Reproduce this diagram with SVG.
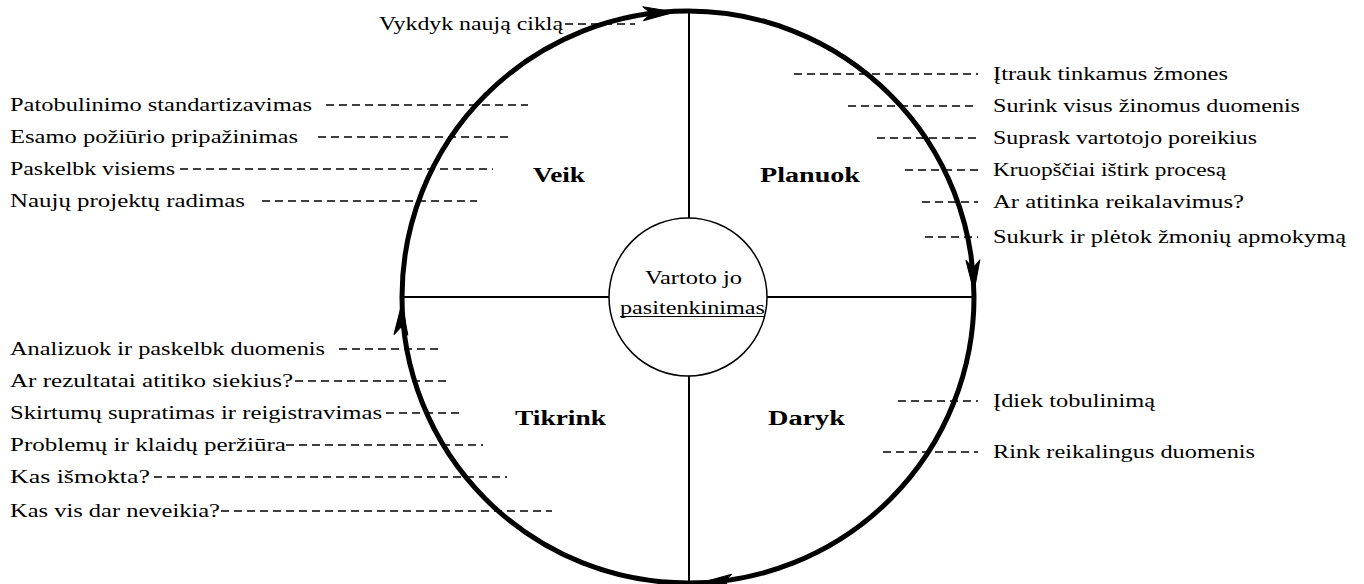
<svg xmlns="http://www.w3.org/2000/svg" width="1364" height="584" viewBox="0 0 1364 584">
<style>
text{font-family:"Liberation Serif","Times New Roman",serif;font-size:18px;fill:#000}
.b{font-weight:bold;font-size:20px}
.d{stroke:#000;stroke-width:1.3;stroke-dasharray:8 5;fill:none}
.ax{stroke:#000;stroke-width:2;fill:none}
.big{stroke:#000;stroke-width:5;fill:none}
.ah{fill:#000;stroke:#000;stroke-width:1}
</style>
<defs>
<path id="arrow" d="M0,0 L-32,-7 L-24,0 L-32,7 Z"/>
</defs>
<rect width="1364" height="584" fill="#fff"/>
<g id="connectors">
<circle class="big" cx="688" cy="297" r="286"/>
<use href="#arrow" class="ah" transform="translate(675,12) rotate(-3)"/>
<use href="#arrow" class="ah" transform="translate(974,292) rotate(88)"/>
<use href="#arrow" class="ah" transform="translate(700,583) rotate(177)"/>
<use href="#arrow" class="ah" transform="translate(402,303) rotate(-88)"/>
<line class="ax" x1="689" y1="11" x2="689" y2="218"/>
<line class="ax" x1="689" y1="376" x2="689" y2="583"/>
<line class="ax" x1="402" y1="297" x2="609" y2="297"/>
<line class="ax" x1="767" y1="297" x2="975" y2="297"/>
<line class="d" x1="565" y1="24" x2="635" y2="24"/>
<line class="d" x1="326" y1="105" x2="528" y2="105"/>
<line class="d" x1="318" y1="137" x2="510" y2="137"/>
<line class="d" x1="180" y1="169" x2="493" y2="169"/>
<line class="d" x1="262" y1="201" x2="477" y2="201"/>
<line class="d" x1="794" y1="74" x2="978" y2="74"/>
<line class="d" x1="848" y1="106" x2="978" y2="106"/>
<line class="d" x1="877" y1="138" x2="978" y2="138"/>
<line class="d" x1="905" y1="170" x2="978" y2="170"/>
<line class="d" x1="922" y1="202" x2="978" y2="202"/>
<line class="d" x1="925" y1="237" x2="978" y2="237"/>
<line class="d" x1="898" y1="401" x2="978" y2="401"/>
<line class="d" x1="883" y1="452" x2="978" y2="452"/>
<line class="d" x1="339" y1="349" x2="440" y2="349"/>
<line class="d" x1="295" y1="381" x2="447" y2="381"/>
<line class="d" x1="386" y1="413" x2="464" y2="413"/>
<line class="d" x1="286" y1="445" x2="483" y2="445"/>
<line class="d" x1="154" y1="477" x2="507" y2="477"/>
<line class="d" x1="221" y1="511" x2="552" y2="511"/>
</g>
<g id="center" font-family="Liberation Serif, serif">
<circle cx="688" cy="297" r="79" fill="none" stroke="#000" stroke-width="1.5"/>
<text x="645" y="284" textLength="97" lengthAdjust="spacingAndGlyphs">Vartoto jo</text>
<text x="620" y="314" textLength="145" lengthAdjust="spacingAndGlyphs">pasitenkinimas</text>
<line x1="620" y1="316.5" x2="765" y2="316.5" stroke="#000" stroke-width="1.2"/>
</g>
<g id="veik"><text class="b" x="533" y="182" textLength="52" lengthAdjust="spacingAndGlyphs">Veik</text></g>
<g id="planuok"><text class="b" x="760" y="182" textLength="100" lengthAdjust="spacingAndGlyphs">Planuok</text></g>
<g id="tikrink"><text class="b" x="515" y="425" textLength="91" lengthAdjust="spacingAndGlyphs">Tikrink</text></g>
<g id="daryk"><text class="b" x="768" y="425" textLength="77" lengthAdjust="spacingAndGlyphs">Daryk</text></g>
<g id="labels-top" font-family="Liberation Serif, serif"><text x="379" y="30" textLength="184" lengthAdjust="spacingAndGlyphs">Vykdyk naują ciklą</text></g>
<g id="labels-act" font-family="Liberation Serif, serif">
<text x="10" y="111" textLength="302" lengthAdjust="spacingAndGlyphs">Patobulinimo standartizavimas</text>
<text x="10" y="143" textLength="288" lengthAdjust="spacingAndGlyphs">Esamo požiūrio pripažinimas</text>
<text x="10" y="175" textLength="165" lengthAdjust="spacingAndGlyphs">Paskelbk visiems</text>
<text x="10" y="207" textLength="235" lengthAdjust="spacingAndGlyphs">Naujų projektų radimas</text>
</g>
<g id="labels-plan" font-family="Liberation Serif, serif">
<text x="993" y="80" textLength="235" lengthAdjust="spacingAndGlyphs">Įtrauk tinkamus žmones</text>
<text x="993" y="112" textLength="307" lengthAdjust="spacingAndGlyphs">Surink visus žinomus duomenis</text>
<text x="993" y="144" textLength="264" lengthAdjust="spacingAndGlyphs">Suprask vartotojo poreikius</text>
<text x="993" y="176" textLength="233" lengthAdjust="spacingAndGlyphs">Kruopščiai ištirk procesą</text>
<text x="993" y="208" textLength="251" lengthAdjust="spacingAndGlyphs">Ar atitinka reikalavimus?</text>
<text x="993" y="243" textLength="353" lengthAdjust="spacingAndGlyphs">Sukurk ir plėtok žmonių apmokymą</text>
</g>
<g id="labels-do" font-family="Liberation Serif, serif">
<text x="993" y="407" textLength="162" lengthAdjust="spacingAndGlyphs">Įdiek tobulinimą</text>
<text x="993" y="458" textLength="262" lengthAdjust="spacingAndGlyphs">Rink reikalingus duomenis</text>
</g>
<g id="labels-check" font-family="Liberation Serif, serif">
<text x="10" y="355" textLength="315" lengthAdjust="spacingAndGlyphs">Analizuok ir paskelbk duomenis</text>
<text x="10" y="387" textLength="283" lengthAdjust="spacingAndGlyphs">Ar rezultatai atitiko siekius?</text>
<text x="10" y="419" textLength="372" lengthAdjust="spacingAndGlyphs">Skirtumų supratimas ir reigistravimas</text>
<text x="10" y="451" textLength="276" lengthAdjust="spacingAndGlyphs">Problemų ir klaidų peržiūra</text>
<text x="10" y="483" textLength="140" lengthAdjust="spacingAndGlyphs">Kas išmokta?</text>
<text x="10" y="517" textLength="210" lengthAdjust="spacingAndGlyphs">Kas vis dar neveikia?</text>
</g>
</svg>
